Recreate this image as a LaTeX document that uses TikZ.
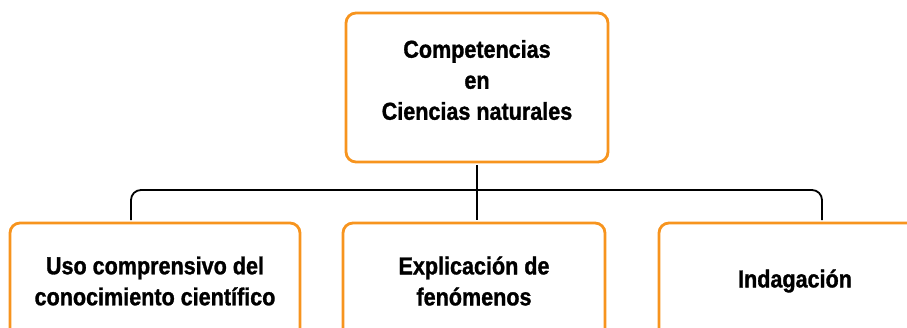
\documentclass[tikz,border=0pt]{standalone}
\usepackage{fontspec}
\setmainfont[FakeStretch=0.88, BoldFeatures={FakeBold=1.2}]{Liberation Sans}
\definecolor{naranja}{RGB}{247,148,30}

\begin{document}
\begin{tikzpicture}[x=1pt, y=-1pt,
  caja/.style={draw=naranja, line width=2.8pt, rounded corners=10pt, fill=white},
  texto/.style={font=\fontsize{24.5}{31}\selectfont\bfseries, align=center},
  linea/.style={line width=1.8pt, rounded corners=10pt, shorten <=1.4pt, shorten >=1.4pt}]
    \useasboundingbox (0,0) rectangle (907,328);
    \clip (0,0) rectangle (907,328);
    \node[caja, minimum width=262, minimum height=149] (comp) at (477,87.5) {};
    \node[texto] (comptxt) at (477,80) {Competencias\\en\\Ciencias naturales};
    \node[caja, texto, minimum width=290, minimum height=116] (uso) at (155,281) {Uso comprensivo del\\conocimiento científico};
    \node[caja, texto, minimum width=262, minimum height=116] (expl) at (474,281) {Explicación de\\fenómenos};
    \node[caja, texto, minimum width=272, minimum height=116] (indag) at (795,281) {Indagación};
    \coordinate (bus) at (477,190);
    \coordinate (izq) at ([xshift=-24pt]uso.north);
    \coordinate (der) at ([xshift=27pt]indag.north);
    \draw[linea] (izq) |- (bus) -| (der);
    \draw[linea] (comp.south) -- (comp.south |- expl.north);
\end{tikzpicture}
\end{document}
